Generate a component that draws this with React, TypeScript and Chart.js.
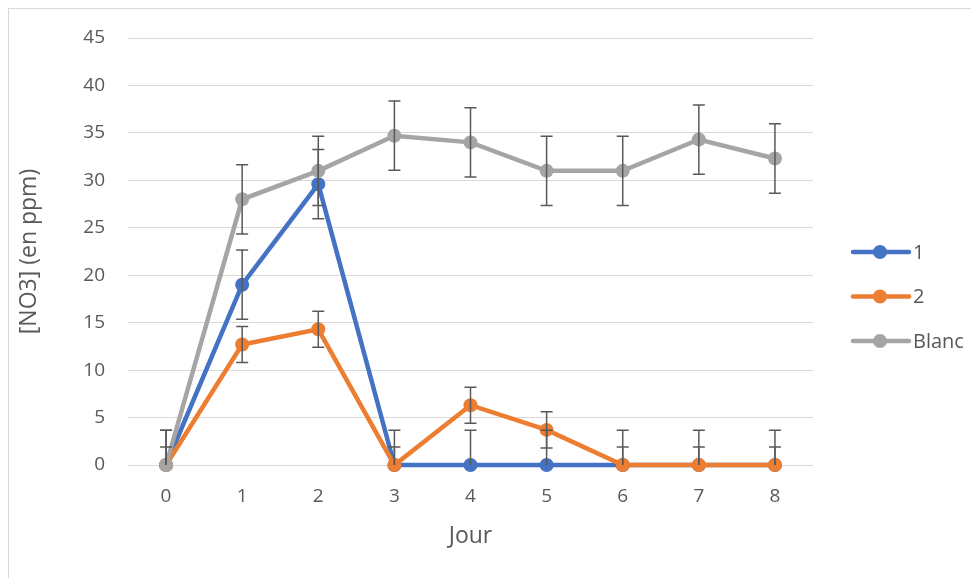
import React, { useEffect, useRef } from "react";
import { Chart, registerables } from "chart.js";

Chart.register(...registerables);

const days = ["0", "1", "2", "3", "4", "5", "6", "7", "8"];
const seriesNames = ["1", "2", "Blanc"];
const series1 = [0, 19.0, 29.6, 0, 0, 0, 0, 0, 0];
const series2 = [0, 12.7, 14.3, 0, 6.3, 3.7, 0, 0, 0];
const blanc = [0, 28.0, 31.0, 34.7, 34.0, 31.0, 31.0, 34.3, 32.3];
const err1 = [3.65, 3.65, 3.65, 3.65, 3.65, 3.65, 3.65, 3.65, 3.65];
const err2 = [1.9, 1.9, 1.9, 1.9, 1.9, 1.9, 1.9, 1.9, 1.9];
const errBlanc = [3.65, 3.65, 3.65, 3.65, 3.65, 3.65, 3.65, 3.65, 3.65];
const yTicksMin = 0;
const yTicksMax = 45;
const yStep = 5;

const colors = ["#4472C4", "#ED7D31", "#A5A5A5"];
const FONT = "'Open Sans', sans-serif";
const TEXT = "#595959";

const errorBarPlugin = {
  id: "errorBars",
  afterDatasetsDraw(chart: any) {
    const { ctx, chartArea } = chart;
    const yScale = chart.scales.y;
    ctx.save();
    ctx.beginPath();
    ctx.rect(chartArea.left, chartArea.top - 20, chartArea.right - chartArea.left, chartArea.bottom - chartArea.top + 20);
    ctx.clip();
    ctx.strokeStyle = "#595959";
    ctx.lineWidth = 1.5;
    chart.data.datasets.forEach((ds: any, i: number) => {
      const meta = chart.getDatasetMeta(i);
      const errs: number[] = ds.errors || [];
      meta.data.forEach((pt: any, j: number) => {
        const v = ds.data[j];
        const e = errs[j];
        if (e == null) return;
        const x = pt.x;
        const yTop = yScale.getPixelForValue(v + e);
        const yBot = yScale.getPixelForValue(v - e);
        ctx.beginPath();
        ctx.moveTo(x, yTop);
        ctx.lineTo(x, yBot);
        ctx.moveTo(x - 6, yTop);
        ctx.lineTo(x + 6, yTop);
        ctx.moveTo(x - 6, yBot);
        ctx.lineTo(x + 6, yBot);
        ctx.stroke();
      });
    });
    ctx.restore();
  },
};

const legendPlugin = {
  id: "customLegend",
  afterDraw(chart: any) {
    const { ctx, chartArea } = chart;
    const x0 = chartArea.right + 40;
    const startY = 243;
    ctx.save();
    chart.data.datasets.forEach((ds: any, i: number) => {
      const y = startY + i * 44.5;
      ctx.strokeStyle = ds.borderColor;
      ctx.lineWidth = 4.5;
      ctx.lineCap = "round";
      ctx.beginPath();
      ctx.moveTo(x0, y);
      ctx.lineTo(x0 + 56, y);
      ctx.stroke();
      ctx.fillStyle = ds.borderColor;
      ctx.beginPath();
      ctx.arc(x0 + 27, y, 7, 0, Math.PI * 2);
      ctx.fill();
      ctx.fillStyle = TEXT;
      ctx.font = `20px ${FONT}`;
      ctx.textBaseline = "middle";
      ctx.textAlign = "left";
      ctx.fillText(ds.label, x0 + 60, y + 1);
    });
    ctx.restore();
  },
};

export default function App() {
  const ref = useRef<HTMLCanvasElement | null>(null);
  useEffect(() => {
    if (!ref.current) return;
    const values = [series1, series2, blanc];
    const errors = [err1, err2, errBlanc];
    const orders = [2, 1, 0];
    const chart = new Chart(ref.current, {
      type: "line",
      data: {
        labels: days,
        datasets: seriesNames.map((name, i) => ({
          label: name,
          data: values[i],
          errors: errors[i],
          borderColor: colors[i],
          backgroundColor: colors[i],
          borderWidth: 4.5,
          pointRadius: 7,
          pointBorderWidth: 0,
          pointBackgroundColor: colors[i],
          pointHoverRadius: 7,
          tension: 0,
          order: orders[i],
          clip: false,
        })) as any,
      },
      options: {
        responsive: false,
        animation: false,
        devicePixelRatio: 1,
        layout: { padding: { top: 29, right: 166, left: 0, bottom: 0 } },
        plugins: {
          legend: { display: false },
          tooltip: { enabled: false },
        },
        scales: {
          x: {
            type: "category",
            offset: true,
            grid: { display: false, drawTicks: false },
            border: { display: false },
            ticks: { color: TEXT, font: { family: FONT, size: 19 }, padding: 20, maxRotation: 0 },
            title: { display: true, text: "Jour", color: TEXT, font: { family: FONT, size: 23 }, padding: { top: 0, bottom: 28 } },
            afterFit: (scale: any) => {
              scale.height = 113;
              scale.paddingLeft = 0;
              scale.paddingRight = 0;
            },
          },
          y: {
            min: yTicksMin,
            max: yTicksMax,
            ticks: { stepSize: yStep, color: TEXT, font: { family: FONT, size: 19 }, padding: 23 },
            grid: { color: "#d9d9d9", lineWidth: 1, drawTicks: false },
            border: { display: false },
            title: { display: true, text: "[NO3] (en ppm)", color: TEXT, font: { family: FONT, size: 23 }, padding: { top: 7, bottom: 0 } },
            afterFit: (scale: any) => {
              scale.width = 119;
              scale.paddingTop = 0;
              scale.paddingBottom = 0;
            },
          },
        },
      } as any,
      plugins: [errorBarPlugin, legendPlugin],
    });
    return () => chart.destroy();
  }, []);
  return (
    <div
      style={{
        width: 970,
        height: 569,
        borderLeft: "1px solid #d9d9d9",
        borderTop: "1px solid #d9d9d9",
        overflow: "hidden",
        background: "#fff",
      }}
    >
      <canvas ref={ref} width={970} height={569} style={{ display: "block" }} />
    </div>
  );
}
